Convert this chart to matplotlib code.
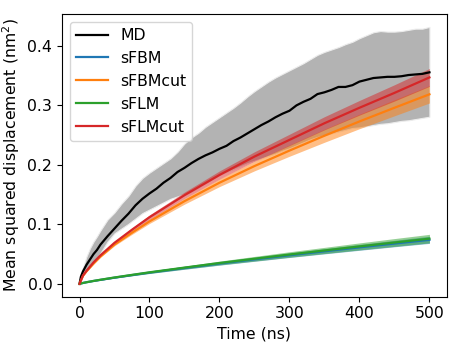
import numpy as np
import matplotlib
matplotlib.use("Agg")
import matplotlib.pyplot as plt

plt.rcParams['font.size'] = 11.3

# MD mean squared displacement with its spread
t_md = [0, 2, 5, 10, 15, 20, 25, 30, 40, 50, 60, 70, 80, 90, 100, 110, 120,
        130, 140, 150, 160, 170, 180, 190, 200, 210, 220, 230, 240, 250, 260,
        270, 280, 290, 300, 310, 320, 330, 340, 350, 360, 370, 380, 390, 400,
        410, 420, 430, 440, 450, 460, 470, 480, 490, 500]
md = [0, 0.012, 0.021, 0.032, 0.041, 0.050, 0.057, 0.066, 0.080, 0.093,
      0.106, 0.118, 0.132, 0.143, 0.152, 0.160, 0.170, 0.178, 0.188, 0.195,
      0.203, 0.210, 0.216, 0.221, 0.227, 0.232, 0.240, 0.246, 0.253, 0.260,
      0.267, 0.273, 0.280, 0.286, 0.291, 0.300, 0.306, 0.311, 0.319, 0.322,
      0.326, 0.331, 0.331, 0.334, 0.340, 0.343, 0.346, 0.347, 0.348, 0.348,
      0.349, 0.351, 0.352, 0.353, 0.3556]
md_hi = [0, 0.015, 0.028, 0.046, 0.060, 0.071, 0.080, 0.090, 0.108, 0.120,
         0.135, 0.148, 0.165, 0.178, 0.187, 0.195, 0.203, 0.211, 0.222, 0.236,
         0.246, 0.254, 0.264, 0.272, 0.280, 0.288, 0.296, 0.305, 0.315, 0.324,
         0.332, 0.340, 0.347, 0.353, 0.359, 0.365, 0.371, 0.378, 0.385, 0.390,
         0.394, 0.398, 0.403, 0.407, 0.413, 0.418, 0.423, 0.425, 0.424, 0.424,
         0.425, 0.427, 0.429, 0.429, 0.432]
md_lo = [0, 0.009, 0.015, 0.022, 0.028, 0.035, 0.043, 0.052, 0.071, 0.085,
         0.093, 0.101, 0.110, 0.119, 0.125, 0.131, 0.137, 0.143, 0.147, 0.151,
         0.155, 0.162, 0.169, 0.176, 0.183, 0.188, 0.193, 0.198, 0.203, 0.207,
         0.211, 0.215, 0.219, 0.224, 0.228, 0.233, 0.238, 0.243, 0.247, 0.250,
         0.253, 0.256, 0.259, 0.262, 0.263, 0.265, 0.267, 0.269, 0.270, 0.272,
         0.274, 0.275, 0.277, 0.279, 0.281]

# model curves
t_mod = [0, 5, 10, 20, 30, 50, 75, 100, 150, 200, 250, 300, 350, 400, 450, 500]
sfbm = [0, 0.0015, 0.0027, 0.0048, 0.0067, 0.0104, 0.0147, 0.0189, 0.0266,
        0.0341, 0.0411, 0.0480, 0.0547, 0.0613, 0.0677, 0.0740]
sfbm_sd = [0, 0.0002, 0.0003, 0.0005, 0.0007, 0.0009, 0.0012, 0.0015, 0.0021,
           0.0027, 0.0032, 0.0037, 0.0043, 0.0049, 0.0054, 0.0060]
sfbmcut = [0, 0.0135, 0.021, 0.034, 0.046, 0.066, 0.086, 0.105, 0.139, 0.170,
           0.198, 0.224, 0.249, 0.273, 0.296, 0.3186]
sfbmcut_sd = [0, 0.0004, 0.0007, 0.001, 0.0014, 0.002, 0.0028, 0.0035, 0.005,
              0.0065, 0.008, 0.0095, 0.011, 0.0122, 0.0135, 0.0146]
sflm = [0, 0.0015, 0.0027, 0.0049, 0.0069, 0.0107, 0.0151, 0.0194, 0.0273,
        0.0350, 0.0422, 0.0493, 0.0561, 0.0629, 0.0695, 0.0760]
sflm_sd = [0, 0.0002, 0.0003, 0.0005, 0.0007, 0.001, 0.0014, 0.0018, 0.0025,
           0.0032, 0.0039, 0.0046, 0.0052, 0.0059, 0.0066, 0.0072]
sflmcut = [0, 0.014, 0.022, 0.036, 0.048, 0.069, 0.091, 0.112, 0.149, 0.183,
           0.214, 0.242, 0.270, 0.296, 0.321, 0.347]
sflmcut_sd = [0, 0.0004, 0.0007, 0.001, 0.0015, 0.0022, 0.003, 0.0038, 0.0053,
              0.0068, 0.008, 0.0095, 0.011, 0.0123, 0.0137, 0.015]

fig = plt.figure(figsize=(4.61, 3.46), dpi=100)
ax = fig.add_axes([0.1345, 0.1425, 0.835, 0.817])

ax.fill_between(t_md, md_lo, md_hi, facecolor='#b3b3b3', edgecolor='#ececec',
                linewidth=0.8)
ax.plot(t_md, md, color='k', lw=1.6, label='MD')

models = [('sFBM', sfbm, sfbm_sd, 'tab:blue'),
          ('sFBMcut', sfbmcut, sfbmcut_sd, 'tab:orange'),
          ('sFLM', sflm, sflm_sd, 'tab:green'),
          ('sFLMcut', sflmcut, sflmcut_sd, 'tab:red')]
t = np.array(t_mod)
for name, m, sd, c in models:
    m = np.array(m)
    sd = np.array(sd)
    ax.fill_between(t, m - sd, m + sd, color=c, alpha=0.5, linewidth=0)
    ax.plot(t, m, color=c, lw=1.6, label=name)

ax.set_xlabel("Time (ns)")
ax.set_ylabel("Mean squared displacement (nm$^2$)")
ax.set_xticks([0, 100, 200, 300, 400, 500])
ax.legend(loc='upper left')

fig.savefig("out.png", dpi=100)
